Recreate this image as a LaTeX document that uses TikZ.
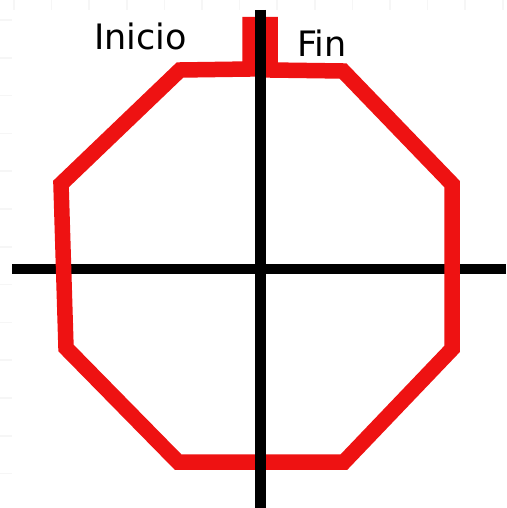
\documentclass[tikz,border=0pt]{standalone}
\usepackage{fontspec}
\setmainfont{DejaVu Sans}
\usetikzlibrary{calc}
\definecolor{trazo}{RGB}{238, 18, 18}
\definecolor{rejilla}{RGB}{246, 246, 246}

\begin{document}
\begin{tikzpicture}[x=1pt, y=-1pt,
    etiqueta/.style={anchor=base west, inner sep=0pt, font=\fontsize{35}{40}\selectfont}]
        \useasboundingbox (0,0) rectangle (506,508);
        % rejilla tenue en los margenes
        \foreach \i in {0,...,13} \draw[rejilla, line width=1.5pt] ($(14,0)+\i*(37.6,0)$) -- ++(0,508);
        \foreach \j in {0,...,13} \draw[rejilla, line width=1.5pt] ($(0,20)+\j*(0,37.8)$) -- ++(506,0);
        \fill[white] (12,10) rectangle (506,508);
        \draw[line width=10.5pt] (12,269) -- (506,269);
        \draw[trazo, line width=15.5pt, miter limit=4]
          (250,17) -- (250,69) -- (180,70) -- (61,184) -- (66,348) -- (178,462)
          -- (344,462) -- (452,349) -- (452,184) -- (343,71) -- (270,70) -- (270,17);
        \draw[line width=11pt] (260,10) -- (260,508);
        \node[etiqueta] (inicio) at (94,50) {Inicio};
        \node[etiqueta] (fin) at (297,57) {Fin};
      \end{tikzpicture}
\end{document}
